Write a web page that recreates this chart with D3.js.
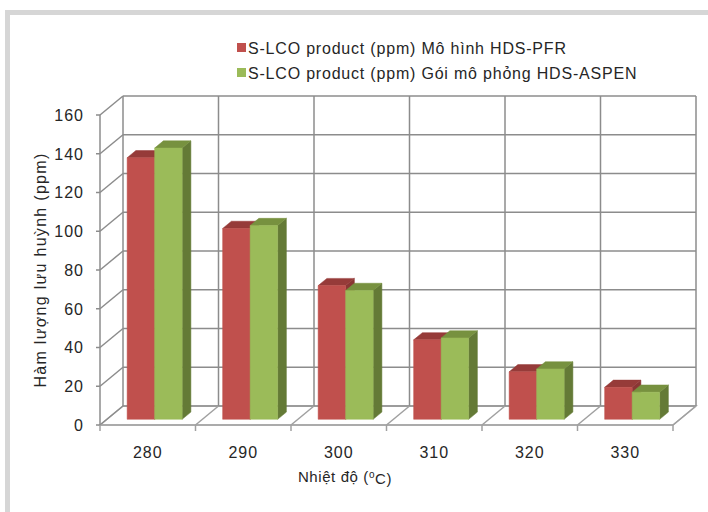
<!DOCTYPE html>
<html>
<head>
<meta charset="utf-8">
<script src="https://cdn.jsdelivr.net/npm/d3@7"></script>
<style>
  body { margin: 0; background: #fff; }
  text { font-family: "Liberation Sans", Arial, sans-serif; fill: #262626; }
</style>
</head>
<body>
<div id="container"></div>
<script>
/* DATA */
const categories = ["280", "290", "300", "310", "320", "330"];
const pfrValues = [135, 98.5, 69, 41, 24.5, 16.5];
const aspenValues = [140, 100, 66.5, 42, 26, 14];
const seriesNames = ["S-LCO product (ppm) Mô hình HDS-PFR", "S-LCO product (ppm) Gói mô phỏng HDS-ASPEN"];
const yTicks = [0, 20, 40, 60, 80, 100, 120, 140, 160];

/* CONSTANTS */
const width = 708, height = 512;
const depthX = 23, depthY = -19;       // full depth of the 3d box
const barFrontDepth = 0.3, barBackDepth = 0.68;
const colors = [
  { front: "#c0504d", top: "#963b39", side: "#8a3634" },
  { front: "#9bbb59", top: "#77913f", side: "#647a36" }
];
const gridColor = "#8c8c8c";

const svg = d3.select("#container")
  .append("svg")
  .attr("width", width)
  .attr("height", height);

// outer frame
svg.append("rect")
  .attr("x", 7.5).attr("y", 12.5)
  .attr("width", 800).attr("height", 600)
  .attr("fill", "#fff")
  .attr("stroke", "#d6d6d6")
  .attr("stroke-width", 5);

/* SCALES (front plane) */
const xScale = d3.scaleBand()
  .domain(categories)
  .range([100, 673])
  .paddingInner(0.424)
  .paddingOuter(0.212);

const xCat = d3.scaleBand()
  .domain(categories)
  .range([100, 673]);

const xSeries = d3.scaleBand()
  .domain([0, 1])
  .range([0, xScale.bandwidth()]);

const yScale = d3.scaleLinear()
  .domain([0, 160])
  .range([425, 115]);

const pt = (x, y, f) => [x + depthX * f, y + depthY * f];

const grid = svg.append("g")
  .attr("fill", "none")
  .attr("stroke", gridColor)
  .attr("stroke-width", 1.5);

const [x0, x1] = xScale.range();
const yTop = yScale(160), yZero = yScale(0);

// floor
const floor = [pt(x0, yZero, 0), pt(x1, yZero, 0), pt(x1, yZero, 1), pt(x0, yZero, 1)];
svg.insert("path", "g")
  .attr("d", d3.line()(floor) + "Z")
  .attr("fill", "#fff")
  .attr("stroke", "#b8b8b8")
  .attr("stroke-width", 1.5);

// back wall horizontal gridlines
grid.selectAll("line.hgrid")
  .data(yTicks)
  .join("line")
  .attr("class", "hgrid")
  .attr("x1", x0 + depthX).attr("x2", x1 + depthX)
  .attr("y1", d => yScale(d) + depthY).attr("y2", d => yScale(d) + depthY);

// left wall diagonals
grid.selectAll("line.ldiag")
  .data(yTicks)
  .join("line")
  .attr("class", "ldiag")
  .attr("x1", x0).attr("x2", x0 + depthX)
  .attr("y1", d => yScale(d)).attr("y2", d => yScale(d) + depthY);

// back wall vertical gridlines
const bounds = categories.map(c => xCat(c)).concat([x1]);
grid.selectAll("line.vgrid")
  .data(bounds)
  .join("line")
  .attr("class", "vgrid")
  .attr("x1", d => d + depthX).attr("x2", d => d + depthX)
  .attr("y1", yTop + depthY).attr("y2", yZero + depthY);

// floor diagonals at category boundaries
grid.selectAll("line.fdiag")
  .data(bounds.slice(1))
  .join("line")
  .attr("class", "fdiag")
  .attr("stroke", "#a0a0a0")
  .attr("x1", d => d).attr("x2", d => d + depthX)
  .attr("y1", yZero).attr("y2", yZero + depthY);

// front floor edge
grid.append("line")
  .attr("stroke", "#a0a0a0")
  .attr("x1", x0).attr("x2", x1)
  .attr("y1", yZero).attr("y2", yZero);

// y axis line + ticks
grid.append("line")
  .attr("x1", x0).attr("x2", x0)
  .attr("y1", yTop).attr("y2", yZero);
grid.selectAll("line.ytick")
  .data(yTicks)
  .join("line")
  .attr("class", "ytick")
  .attr("x1", x0 - 4).attr("x2", x0)
  .attr("y1", d => yScale(d)).attr("y2", d => yScale(d));

// x ticks
grid.selectAll("line.xtick")
  .data(bounds)
  .join("line")
  .attr("class", "xtick")
  .attr("stroke", "#a0a0a0")
  .attr("x1", d => d).attr("x2", d => d)
  .attr("y1", yZero).attr("y2", yZero + 6);

/* BARS */
const bars = svg.append("g");
categories.forEach((c, i) => {
  [pfrValues[i], aspenValues[i]].forEach((v, s) => {
    const xl = xScale(c) + xSeries(s);
    const xr = xl + xSeries.bandwidth();
    const yt = yScale(v), yb = yScale(0);
    const f0 = barFrontDepth, f1 = barBackDepth;
    const faces = [
      { pts: [pt(xr, yt, f0), pt(xr, yt, f1), pt(xr, yb, f1), pt(xr, yb, f0)], fill: colors[s].side },
      { pts: [pt(xl, yt, f0), pt(xl, yt, f1), pt(xr, yt, f1), pt(xr, yt, f0)], fill: colors[s].top },
      { pts: [pt(xl, yt, f0), pt(xr, yt, f0), pt(xr, yb, f0), pt(xl, yb, f0)], fill: colors[s].front }
    ];
    bars.selectAll(null)
      .data(faces)
      .join("path")
      .attr("d", d => d3.line()(d.pts) + "Z")
      .attr("fill", d => d.fill)
      .attr("stroke", d => d.fill)
      .attr("stroke-width", 0.5);
  });
});

/* LABELS */
svg.selectAll("text.ylabel")
  .data(yTicks)
  .join("text")
  .attr("class", "ylabel")
  .attr("x", 84)
  .attr("y", d => yScale(d))
  .attr("dy", "0.36em")
  .attr("text-anchor", "end")
  .style("font-size", "16px")
  .style("letter-spacing", "1px")
  .text(d => d);

svg.selectAll("text.xlabel")
  .data(categories)
  .join("text")
  .attr("class", "xlabel")
  .attr("x", d => xCat(d) + xCat.bandwidth() / 2)
  .attr("y", 452)
  .attr("dy", "0.36em")
  .attr("text-anchor", "middle")
  .style("font-size", "16px")
  .style("letter-spacing", "1px")
  .text(d => d);

const xTitle = svg.append("text")
  .attr("x", 345).attr("y", 477)
  .attr("dy", "0.36em")
  .attr("text-anchor", "middle")
  .style("font-size", "15px")
  .style("letter-spacing", "0.6px");
xTitle.append("tspan").text("Nhiệt độ (");
xTitle.append("tspan").attr("dy", "-0.4em").style("font-size", "10px").text("o");
xTitle.append("tspan").attr("dy", "0.4em").text("C)");

svg.append("text")
  .attr("transform", "translate(40,270) rotate(-90)")
  .attr("dy", "0.36em")
  .attr("text-anchor", "middle")
  .style("font-size", "16px")
  .style("letter-spacing", "1.3px")
  .text("Hàm lượng lưu huỳnh (ppm)");

// legend
const legend = svg.selectAll("g.legend")
  .data(seriesNames)
  .join("g")
  .attr("class", "legend")
  .attr("transform", (d, i) => `translate(237,${48 + i * 25})`);
legend.append("rect")
  .attr("x", 0).attr("y", -5)
  .attr("width", 9).attr("height", 9)
  .attr("fill", (d, i) => colors[i].front);
legend.append("text")
  .attr("x", 11)
  .attr("dy", "0.36em")
  .style("font-size", "16px")
  .style("letter-spacing", "0.8px")
  .text(d => d);
</script>
</body>
</html>
